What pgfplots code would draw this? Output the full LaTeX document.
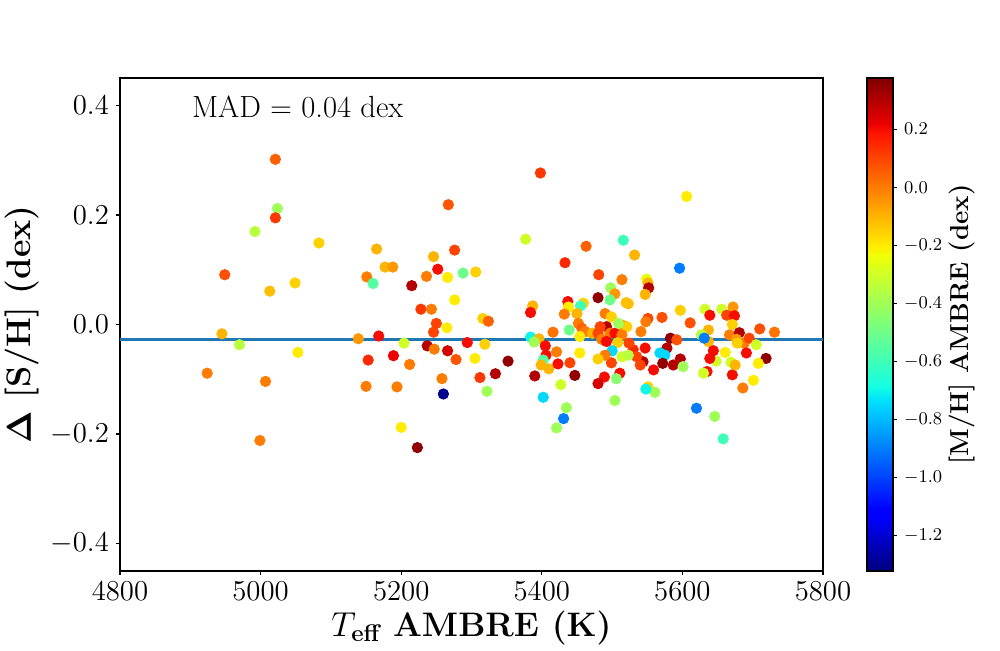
\documentclass[border=0pt]{standalone}
\usepackage{pgfplots}
\usepackage{pgfplotstable}
\pgfplotsset{compat=1.18}
\usepackage{amsmath}
\pgfplotsset{colormap={mjet}{rgb(0pt)=(0,0,0.5) rgb(22pt)=(0,0,1) rgb(25pt)=(0,0,1) rgb(68pt)=(0,0.86,1) rgb(70pt)=(0,0.9,0.97) rgb(75pt)=(0.08,1,0.89) rgb(128pt)=(0.94,1,0.03) rgb(130pt)=(0.97,0.96,0) rgb(132pt)=(1,0.93,0) rgb(178pt)=(1,0.07,0) rgb(182pt)=(0.91,0,0) rgb(200pt)=(0.5,0,0)}}
\pgfplotstableread{
x y m
5021 0.302 0.05
5024 0.212 -0.4
5021 0.195 0.12
4992 0.170 -0.35
5083 0.149 -0.15
4949 0.091 0.08
5049 0.076 -0.15
5013 0.061 -0.12
5151 0.087 0.0
5160 0.075 -0.55
4945 -0.017 -0.1
4970 -0.037 -0.35
5053 -0.051 -0.2
4924 -0.089 0.0
5007 -0.104 0.0
5139 -0.026 -0.05
5153 -0.065 0.15
5150 -0.113 0.0
4999 -0.212 0.0
5398 0.277 0.12
5267 0.219 0.07
5377 0.156 -0.3
5165 0.138 -0.1
5276 0.136 0.1
5246 0.124 -0.1
5177 0.105 -0.1
5188 0.105 -0.05
5252 0.101 0.2
5288 0.094 -0.5
5306 0.096 -0.15
5236 0.088 0.0
5266 0.086 -0.2
5215 0.071 0.3
5276 0.045 -0.2
5228 0.028 0.12
5243 0.028 0.0
5387 0.034 -0.1
5384 0.022 0.2
5250 0.002 0.1
5316 0.011 -0.15
5324 0.006 0.05
5265 -0.006 -0.2
5246 -0.014 0.1
5168 -0.021 0.2
5204 -0.034 -0.3
5237 -0.039 0.3
5247 -0.045 0.0
5266 -0.048 0.25
5294 -0.033 0.2
5319 -0.036 -0.15
5189 -0.057 0.22
5212 -0.073 0.0
5278 -0.064 0.07
5305 -0.062 -0.2
5352 -0.067 0.35
5334 -0.090 0.3
5312 -0.097 0.12
5258 -0.099 0.0
5194 -0.114 0.0
5260 -0.127 -1.3
5322 -0.122 -0.4
5200 -0.188 -0.2
5223 -0.225 0.35
5390 -0.094 0.3
5402 -0.133 -0.75
5384 -0.023 -0.7
5396 -0.026 -0.1
5389 -0.032 -0.4
5405 -0.039 0.2
5406 -0.056 0.2
5402 -0.065 -0.55
5399 -0.074 -0.1
5410 -0.081 -0.1
5606 0.234 -0.2
5516 0.154 -0.6
5463 0.143 0.05
5532 0.127 -0.1
5433 0.113 0.15
5596 0.103 -0.9
5481 0.091 0.1
5514 0.082 0.0
5549 0.083 -0.25
5551 0.076 -0.1
5552 0.067 0.3
5498 0.067 -0.4
5504 0.056 -0.05
5547 0.055 -0.1
5480 0.049 0.35
5497 0.045 -0.5
5520 0.040 -0.12
5523 0.038 -0.12
5437 0.042 0.2
5459 0.039 -0.15
5438 0.032 -0.2
5455 0.034 -0.6
5597 0.026 -0.15
5632 0.028 -0.3
5656 0.028 -0.3
5672 0.032 -0.05
5432 0.019 0.0
5450 0.020 -0.1
5416 -0.014 0.02
5439 -0.010 -0.5
5452 0.002 0.0
5457 -0.007 0.05
5462 -0.013 0.0
5472 -0.016 -0.1
5490 0.020 0.0
5499 0.014 -0.15
5492 -0.004 0.3
5483 -0.004 0.1
5480 -0.016 0.1
5497 -0.016 0.0
5504 -0.016 0.2
5514 -0.001 -0.05
5521 -0.004 -0.15
5514 -0.019 0.0
5541 -0.013 0.0
5551 0.011 0.1
5548 0.005 0.0
5571 0.013 0.08
5611 0.003 0.08
5639 0.017 0.2
5663 0.017 0.1
5674 0.016 0.2
5671 0.000 -0.15
5637 -0.010 -0.1
5627 -0.019 -0.35
5637 -0.031 -0.1
5667 -0.019 0.0
5681 -0.015 0.3
5677 -0.027 -0.05
5688 -0.034 0.0
5695 -0.025 0.1
5710 -0.008 0.08
5731 -0.014 0.02
5678 -0.034 -0.15
5705 -0.037 -0.3
5719 -0.062 0.35
5691 -0.052 0.2
5708 -0.071 -0.2
5701 -0.102 -0.2
5686 -0.116 0.0
5671 -0.092 0.2
5669 -0.069 -0.3
5675 -0.074 -0.1
5661 -0.051 -0.2
5648 -0.067 -0.3
5644 -0.048 0.2
5639 -0.062 0.2
5635 -0.086 0.2
5630 -0.089 -0.3
5646 -0.168 -0.4
5620 -0.153 -0.9
5658 -0.209 -0.6
5578 -0.043 0.3
5583 -0.025 0.35
5592 -0.028 0.08
5575 -0.056 -0.75
5568 -0.052 -0.75
5572 -0.071 0.35
5587 -0.074 0.3
5597 -0.063 0.3
5601 -0.077 -0.4
5559 -0.083 0.2
5547 -0.043 0.2
5544 -0.068 0.3
5540 -0.074 0.1
5530 -0.046 0.15
5535 -0.059 0.1
5524 -0.034 0.1
5514 -0.059 -0.3
5523 -0.056 -0.35
5508 -0.033 -0.15
5500 -0.048 -0.75
5499 -0.070 0.1
5490 -0.056 0.0
5480 -0.063 -0.15
5511 -0.089 0.2
5506 -0.099 -0.45
5489 -0.096 0.2
5480 -0.108 0.25
5504 -0.139 -0.4
5551 -0.114 -0.15
5561 -0.124 -0.4
5548 -0.118 -0.7
5454 -0.052 -0.2
5447 -0.093 0.35
5440 -0.070 0.1
5423 -0.072 0.2
5421 -0.050 0.0
5427 -0.110 -0.3
5435 -0.152 -0.4
5431 -0.172 -0.9
5421 -0.189 -0.4
5454 -0.022 -0.2
5485 -0.027 0.0
5492 -0.031 0.2
5509 0.002 -0.4
5631 -0.025 -0.9
}\scatterdata
\begin{document}
\begin{tikzpicture}
\path[use as bounding box] (-60pt,-39.65pt) rectangle (440pt,285.35pt);
\begin{axis}[
  at={(0,0)}, anchor=south west,
  width=351.5pt, height=246.2pt, scale only axis,
  xmin=4800, xmax=5800, ymin=-0.45, ymax=0.45,
  xtick={4800,5000,5200,5400,5600,5800},
  ytick={-0.4,-0.2,0,0.2,0.4},
  xtick pos=bottom, ytick pos=left,
  tick align=outside,
  major tick length=2pt,
  axis line style={line width=1pt},
  every tick/.style={black, line width=0.6pt},
  tick label style={font=\fontsize{14.5}{17}\selectfont},
  xticklabel style={/pgf/number format/set thousands separator={}},
  yticklabel style={/pgf/number format/.cd, fixed, fixed zerofill, precision=1},
  every axis y label/.style={at={(axis description cs:-0.139,0.5)}, rotate=90, anchor=center},
  every axis x label/.style={at={(axis description cs:0.5,-0.117)}, anchor=center},
  label style={font=\fontsize{17}{20}\selectfont},
  ylabel={\textbf{$\boldsymbol{\Delta}$ [S/H] (dex)}},
  xlabel={$T_{\mathbf{eff}}$ \textbf{AMBRE (K)}},
  colormap name=mjet,
  point meta min=-1.32, point meta max=0.375,
  colorbar,
  colorbar style={
    at={(parent axis.north east)}, anchor=north west, xshift=13.5pt,
    width=13pt,
    ytick={-1.2,-1,-0.8,-0.6,-0.4,-0.2,0,0.2},
    ytick pos=right, yticklabel pos=right,
    yticklabel style={font=\fontsize{9}{11}\selectfont, /pgf/number format/.cd, fixed, fixed zerofill, precision=1},
    tick align=outside,
    major tick length=2pt,
    axis line style={line width=1pt},
    every tick/.style={black, line width=0.6pt},
    every axis y label/.style={at={(axis description cs:3.65,0.5)}, rotate=90, anchor=center},
    ylabel={\textbf{[M/H] AMBRE (dex)}},
    ylabel style={font=\fontsize{13}{15}\selectfont},
  },
]
\addplot[color={rgb,255:red,31;green,119;blue,180}, line width=1.5pt] coordinates {(4800,-0.0265) (5800,-0.0265)};
\addplot[scatter, only marks, mark=*, mark size=2.6pt, scatter src=explicit,
  scatter/use mapped color={draw=mapped color, fill=mapped color}]
  table[x=x, y=y, meta=m] {\scatterdata};
\node[anchor=base west, font=\fontsize{15.3}{18}\selectfont, inner sep=0pt] at (axis cs:4902,0.379) {MAD $=$ 0.04 dex};
\end{axis}
\end{tikzpicture}
\end{document}
